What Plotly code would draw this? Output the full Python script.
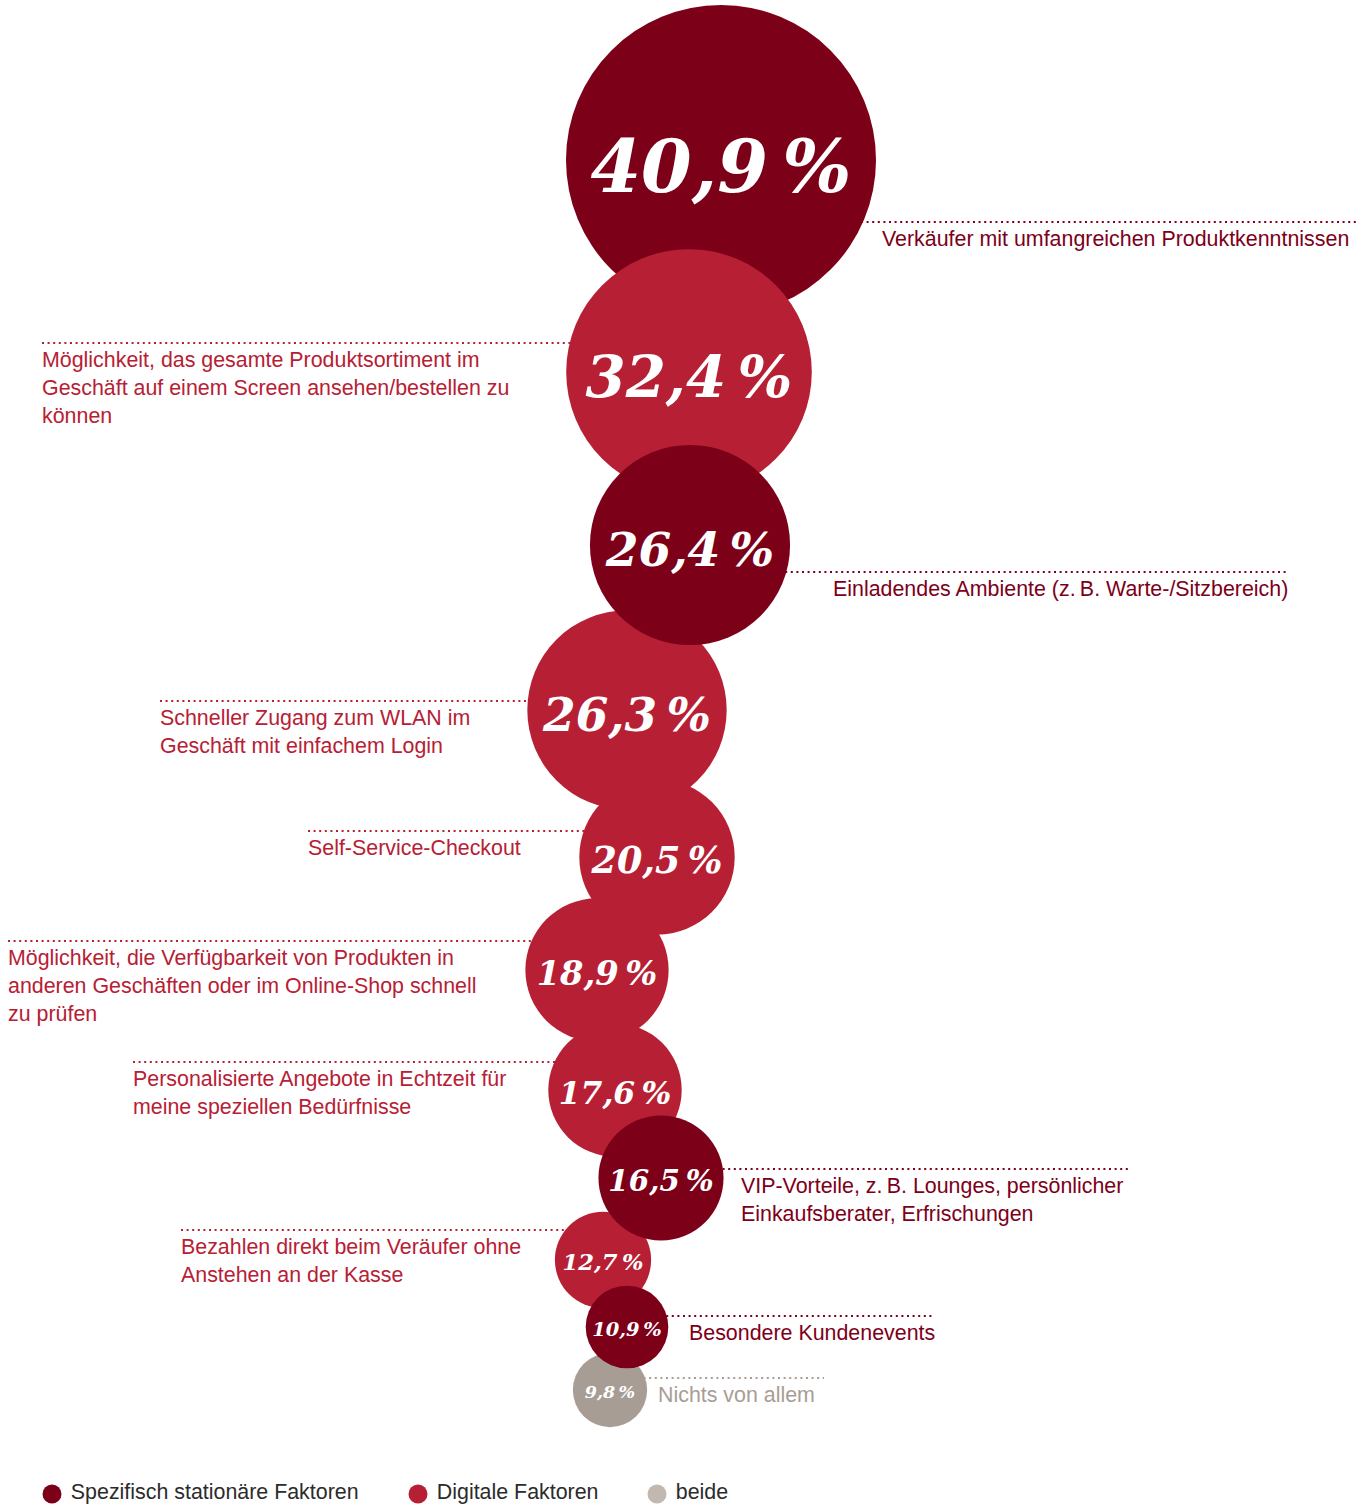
import plotly.graph_objects as go

# ---------------- data ----------------
values = [40.9, 32.4, 26.4, 26.3, 20.5, 18.9, 17.6, 16.5, 12.7, 10.9, 9.8]
labels = [
    "Verkäufer mit umfangreichen Produktkenntnissen",
    "Möglichkeit, das gesamte Produktsortiment im<br>Geschäft auf einem Screen ansehen/bestellen zu<br>können",
    "Einladendes Ambiente (z.\u2009B. Warte-/Sitzbereich)",
    "Schneller Zugang zum WLAN im<br>Geschäft mit einfachem Login",
    "Self-Service-Checkout",
    "Möglichkeit, die Verfügbarkeit von Produkten in<br>anderen Geschäften oder im Online-Shop schnell<br>zu prüfen",
    "Personalisierte Angebote in Echtzeit für<br>meine speziellen Bedürfnisse",
    "VIP-Vorteile, z.\u2009B. Lounges, persönlicher<br>Einkaufsberater, Erfrischungen",
    "Bezahlen direkt beim Veräufer ohne<br>Anstehen an der Kasse",
    "Besondere Kundenevents",
    "Nichts von allem",
]
category = ["stationär", "digital", "stationär", "digital", "digital", "digital",
            "digital", "stationär", "digital", "stationär", "beide"]
legend_names = ["Spezifisch stationäre Faktoren", "Digitale Faktoren", "beide"]
legend_keys = ["stationär", "digital", "beide"]

# ---------------- layout / style ----------------
W, H = 1364, 1504
colors = {"stationär": "#7d0019", "digital": "#b72034", "beide": "#a89d95"}
legend_colors = {"stationär": "#7d0019", "digital": "#b72034", "beide": "#c2b8b0"}
px_per_pct = 3.79      # bubble radius in px per percentage point
font_ratio = 0.47      # value-label font size relative to bubble radius
text_drop = 0.19       # vertical optical offset of value label (x font size)
label_font = 21.4

cx = [721, 689, 690, 627, 657, 597, 615, 661, 603, 627, 610]
cy = [160, 372, 545, 710, 857, 970, 1090, 1178, 1260, 1327, 1390]
side = ["r", "l", "r", "l", "l", "l", "l", "r", "l", "r", "r"]
line_y = [222, 343, 572, 701, 831, 941, 1062, 1169, 1230, 1316, 1378]
label_x = [880, 40, 831, 158, 306, 6, 131, 739, 179, 687, 656]
line_end = [1358, None, 1286, None, None, None, None, 1130, None, 935, 824]
draw_order = [0, 1, 3, 4, 5, 6, 8, 10, 2, 7, 9]
legend_x = [52, 418, 657]
legend_y = 1494

fig = go.Figure()

# leader lines (drawn beneath bubbles)
shapes = []
for i in range(len(values)):
    col = colors[category[i]]
    if side[i] == "r":
        x0, x1 = cx[i], line_end[i]
    else:
        x0, x1 = label_x[i] + 2, cx[i]
    shapes.append(dict(type="line", xref="x", yref="y", x0=x0, x1=x1,
                       y0=line_y[i], y1=line_y[i], layer="below",
                       line=dict(color=col, width=2, dash="2px,3.6px")))

def fmt(v):
    return f"{v:.1f}".replace(".", ",") + "\u2009%"

ordv = [values[i] for i in draw_order]
fsizes = [v * px_per_pct * font_ratio for v in ordv]

# bubbles
fig.add_trace(go.Scatter(
    x=[cx[i] for i in draw_order],
    y=[cy[i] for i in draw_order],
    mode="markers",
    marker=dict(size=[2 * px_per_pct * v for v in ordv], sizemode="diameter",
                color=[colors[category[i]] for i in draw_order],
                line=dict(width=0), opacity=1),
    hoverinfo="skip", showlegend=False, cliponaxis=False,
))

# value labels
fig.add_trace(go.Scatter(
    x=[cx[i] for i in draw_order],
    y=[cy[i] + text_drop * fs for i, fs in zip(draw_order, fsizes)],
    mode="text",
    text=[fmt(v) for v in ordv],
    textposition="middle center",
    textfont=dict(family="DejaVu Serif", size=fsizes,
                  color="white", weight="bold", style="italic"),
    hoverinfo="skip", showlegend=False, cliponaxis=False,
))

# labels
annotations = []
for i in range(len(values)):
    annotations.append(dict(
        x=label_x[i], y=line_y[i] + 3, xref="x", yref="y",
        xanchor="left", yanchor="top", align="left", showarrow=False,
        text=labels[i],
        font=dict(family="Liberation Sans, Arial, sans-serif", size=label_font,
                  color=colors[category[i]]),
    ))

# legend (manual)
fig.add_trace(go.Scatter(
    x=legend_x, y=[legend_y] * 3, mode="markers+text",
    marker=dict(size=19, color=[legend_colors[k] for k in legend_keys], line=dict(width=0)),
    text=[" " + n for n in legend_names], textposition="middle right",
    textfont=dict(family="Liberation Sans, Arial, sans-serif", size=label_font, color="#2b2b2b"),
    hoverinfo="skip", showlegend=False, cliponaxis=False,
))

fig.update_layout(
    width=W, height=H, margin=dict(l=0, r=0, t=0, b=0),
    paper_bgcolor="white", plot_bgcolor="white",
    xaxis=dict(range=[0, W], visible=False, fixedrange=True),
    yaxis=dict(range=[H, 0], visible=False, fixedrange=True),
    shapes=shapes, annotations=annotations, showlegend=False,
)

fig.write_html("out.html")
